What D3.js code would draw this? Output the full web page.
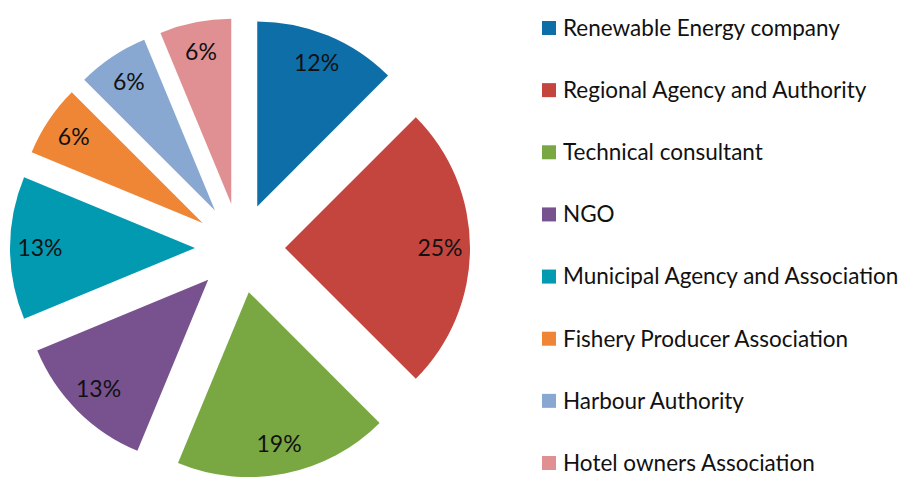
<!DOCTYPE html>
<html>
<head>
<meta charset="utf-8">
<script src="https://cdn.jsdelivr.net/npm/d3@7"></script>
<style>
  body { margin: 0; background: #fff; }
  text { font-family: Lato, "Open Sans", sans-serif; }
</style>
</head>
<body>
<svg id="chart" width="905" height="477"></svg>
<script>
let categories = ["Renewable Energy company", "Regional Agency and Authority", "Technical consultant",
  "NGO", "Municipal Agency and Association", "Fishery Producer Association",
  "Harbour Authority", "Hotel owners Association"],
  shares = [12.5, 25, 18.75, 12.5, 12.5, 6.25, 6.25, 6.25],
  labels = ["12%", "25%", "19%", "13%", "13%", "6%", "6%", "6%"],
  colors = ["#0d6ea8", "#c4443e", "#79a843", "#78528f", "#029ab1", "#ef8636", "#88a8d2", "#e09093"]

let width = 905,
  height = 477,
  cx = 240, cy = 248,
  radius = 185,
  explode = 45

let svg = d3.select("#chart")
let pie = d3.pie().sort(null).value(d => d)
let arc = d3.arc().innerRadius(0).outerRadius(radius)
let color = d3.scaleOrdinal().domain(categories).range(colors)

let arcs = pie(shares)

// each slice pushed out from the centre along its mid angle
function offset(d, dist) {
  let a = (d.startAngle + d.endAngle) / 2
  return [Math.sin(a) * dist, -Math.cos(a) * dist]
}

let slices = svg.append("g")
  .attr("transform", `translate(${cx},${cy})`)
  .selectAll("g")
  .data(arcs).enter()
  .append("g")
  .attr("transform", d => `translate(${offset(d, explode)})`)

slices.append("path")
  .attr("d", arc)
  .attr("fill", (d, i) => color(categories[i]))

slices.append("text")
  .attr("transform", d => `translate(${offset(d, 155)})`)
  .attr("text-anchor", "middle")
  .attr("dy", "0.35em")
  .attr("font-size", 23)
  .attr("fill", "#111")
  .text((d, i) => labels[i])

// legend
let legendY = d3.scalePoint().domain(categories).range([28, 463])

let legend = svg.append("g")
  .selectAll("g")
  .data(categories).enter()
  .append("g")
  .attr("transform", d => `translate(542,${legendY(d)})`)

legend.append("rect")
  .attr("x", 0).attr("y", -7)
  .attr("width", 14).attr("height", 14)
  .attr("fill", d => color(d))

legend.append("text")
  .attr("x", 21)
  .attr("dy", "0.35em")
  .attr("font-size", 22.5)
  .attr("fill", "#111")
  .text(d => d)
</script>
</body>
</html>
